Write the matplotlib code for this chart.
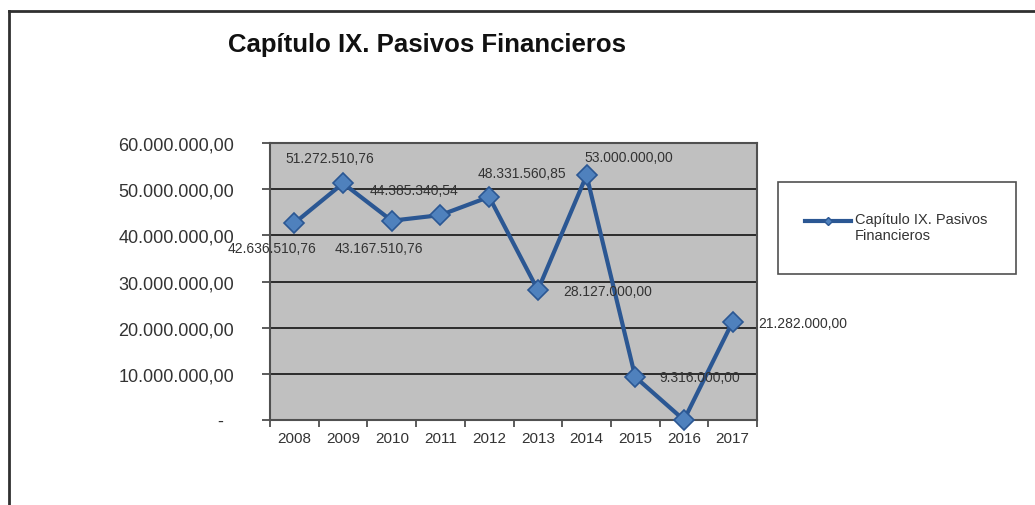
import matplotlib.pyplot as plt
from matplotlib.lines import Line2D
from matplotlib.patches import Rectangle
from matplotlib.ticker import FuncFormatter

plt.rcParams['font.family'] = ['Liberation Sans', 'DejaVu Sans']

years = ['2008', '2009', '2010', '2011', '2012', '2013', '2014', '2015', '2016', '2017']
values = [42636510.76, 51272510.76, 43167510.76, 44385340.54, 48331560.85,
          28127000.00, 53000000.00, 9316000.00, 0.0, 21282000.00]
labels = ['42.636.510,76', '51.272.510,76', '43.167.510,76', '44.385.340,54', '48.331.560,85',
          '28.127.000,00', '53.000.000,00', '9.316.000,00', '', '21.282.000,00']
series_name = 'Capítulo IX. Pasivos\nFinancieros'

# label offsets in pixels (dx, dy)
offsets = [(-22, -25), (-13, 25), (-13, -27), (-26, 25), (33, 24),
           (70, -1), (42, 18), (64, 0), (0, 0), (70, -1)]

W, H = 1035, 506
fig = plt.figure(figsize=(W / 100, H / 100), dpi=100)
ax = fig.add_axes([270 / W, 85 / H, 487 / W, 277 / H])
ax.set_facecolor('#c0c0c0')

x = list(range(len(years)))
ax.plot(x, values, color='#2b5793', lw=3, marker='D', markersize=10,
        markerfacecolor='#4f81bd', markeredgecolor='#2b5793', markeredgewidth=1.2,
        zorder=3, clip_on=False)

for i, (v, lab) in enumerate(zip(values, labels)):
    if lab:
        ax.annotate(lab, (i, v), xytext=offsets[i], textcoords='offset pixels',
                    ha='center', va='center', fontsize=10, color='#333333', zorder=4)

ax.set_xlim(-0.5, len(years) - 0.5)
ax.set_ylim(0, 60000000)
ax.set_yticks(range(0, 60000001, 10000000))


def fmt(v, pos):
    if v == 0:
        return '-  '
    s = f'{v:,.2f}'
    return s.replace(',', 'X').replace('.', ',').replace('X', '.')


ax.yaxis.set_major_formatter(FuncFormatter(fmt))
ax.yaxis.grid(True, color='#202020', lw=1.3)
ax.set_axisbelow(True)

ax.set_xticks([i - 0.5 for i in range(len(years) + 1)])
ax.set_xticklabels([])
ax.set_xticks(x, minor=True)
ax.set_xticklabels(years, minor=True)
ax.tick_params(axis='x', which='major', length=5, width=1.2, color='#404040', direction='out')
ax.tick_params(axis='x', which='minor', length=0, pad=8, labelsize=11, labelcolor='#333333')
ax.tick_params(axis='y', length=6, width=1.2, color='#404040', pad=20,
               labelsize=13, labelcolor='#333333')

for sp in ax.spines.values():
    sp.set_color('#505050')
    sp.set_linewidth(1.5)

fig.text(427 / W, 1 - 45 / H, 'Capítulo IX. Pasivos Financieros', ha='center', va='center',
         fontsize=18.5, fontweight='bold', color='#111111')

# outer border (top and left)
fig.add_artist(Line2D([9 / W, 1.0], [1 - 12 / H, 1 - 12 / H], color='#303030', lw=2))
fig.add_artist(Line2D([9 / W, 9 / W], [0, 1 - 12 / H], color='#303030', lw=2))

# legend box
fig.add_artist(Rectangle((778 / W, 1 - 275 / H), 238 / W, 92 / H, fill=False,
                         edgecolor='#505050', lw=1.2))
fig.add_artist(Line2D([805 / W, 851 / W], [1 - 222 / H, 1 - 222 / H], color='#2b5793', lw=3))
fig.add_artist(Line2D([828 / W], [1 - 222 / H], color='#2b5793', marker='D', markersize=4,
                      markerfacecolor='#4f81bd', lw=0))
fig.text(855 / W, 1 - 228 / H, series_name, ha='left', va='center', fontsize=10.5,
         color='#333333', linespacing=1.15)

fig.savefig('out.png', dpi=100)
